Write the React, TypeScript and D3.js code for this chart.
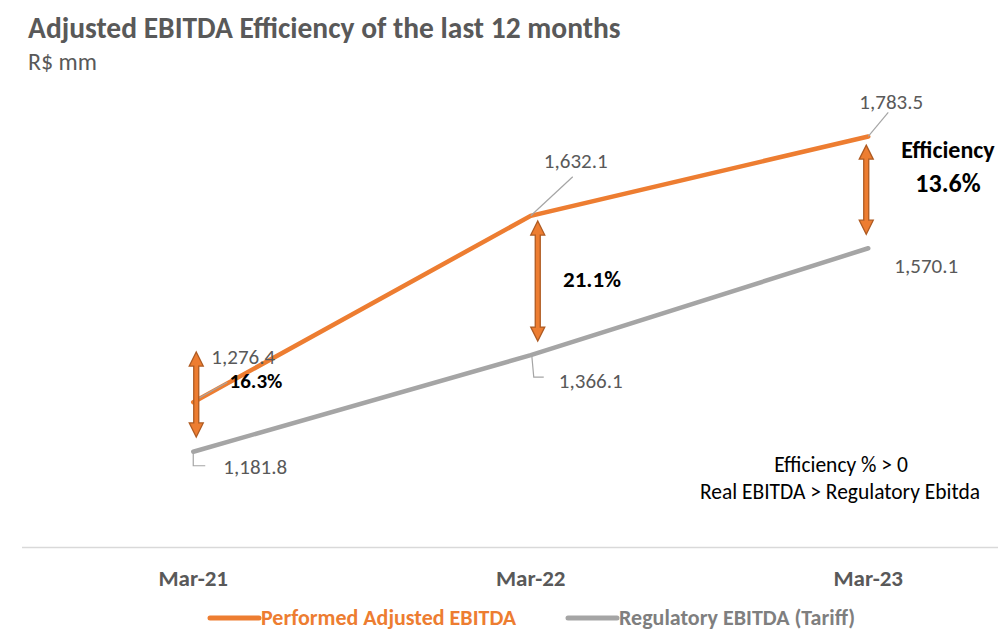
import * as d3 from "d3";

// chart data
const periods = ["Mar-21", "Mar-22", "Mar-23"];
const performed = [1276.4, 1632.1, 1783.5];
const regulatory = [1181.8, 1366.1, 1570.1];
const efficiency = ["16.3%", "21.1%", "13.6%"];
// arrow spans (R$ mm) drawn between the two lines
const arrowTop = [1372, 1622, 1767];
const arrowBottom = [1210, 1393, 1597];

const W = 998;
const H = 630;
const FONT = "Carlito, Lato, 'Open Sans', sans-serif";
const ORANGE = "#ED7D31";
const GRAY = "#A5A5A5";
const TXT = "#595959";

const x = d3.scaleBand<string>().domain(periods).range([24.5, 1037]);
const cx = (i: number) => (x(periods[i]) ?? 0) + x.bandwidth() / 2;
const y = d3.scaleLinear().domain([1000, 2000]).range([547, 23]);

const fmt = d3.format(",.1f");

const line = d3
  .line<number>()
  .x((_, i) => cx(i))
  .y((d) => y(d));

// double headed vertical arrow path
const arrowPath = (xc: number, y1: number, y2: number) => {
  const hw = 7, sw = 2.5, hh = 14;
  return [
    [xc, y1], [xc + hw, y1 + hh], [xc + sw, y1 + hh], [xc + sw, y2 - hh],
    [xc + hw, y2 - hh], [xc, y2], [xc - hw, y2 - hh], [xc - sw, y2 - hh],
    [xc - sw, y1 + hh], [xc - hw, y1 + hh],
  ]
    .map((p, i) => (i === 0 ? "M" : "L") + p[0] + "," + p[1])
    .join("") + "Z";
};

const arrowDx = [3, 7, -2];

export default function App() {
  const p = performed.map((v, i) => ({ x: cx(i), y: y(v) }));
  const r = regulatory.map((v, i) => ({ x: cx(i), y: y(v) }));
  return (
    <svg width={W} height={H} style={{ position: "absolute", left: 0, top: 0, fontFamily: FONT }}>
      <rect width={W} height={H} fill="#fff" />
      <text x={28} y={38} fontSize={29.5} fontWeight="bold" fill={TXT}>
        Adjusted EBITDA Efficiency of the last 12 months
      </text>
      <text x={28} y={70} fontSize={24} fill={TXT}>R$ mm</text>

      {/* axis */}
      <line x1={22} x2={998} y1={547.5} y2={547.5} stroke="#D9D9D9" strokeWidth={1.5} />
      {periods.map((d, i) => (
        <text key={d} x={cx(i)} y={586} textAnchor="middle" fontSize={23} fontWeight="bold" fill={TXT}>
          {d}
        </text>
      ))}

      {/* series */}
      <path d={line(regulatory) ?? ""} fill="none" stroke={GRAY} strokeWidth={4.5} strokeLinecap="round" />
      <path d={line(performed) ?? ""} fill="none" stroke={ORANGE} strokeWidth={4.5} strokeLinecap="round" />

      {/* leader lines */}
      <g stroke={GRAY} strokeWidth={1.2} fill="none">
        <path d={`M${p[0].x},${p[0].y - 1}L${p[0].x + 34},${p[0].y - 20}`} />
        <path d={`M${p[1].x},${p[1].y}L${p[1].x + 42},${p[1].y - 39}`} />
        <path d={`M${p[2].x},${p[2].y}L${p[2].x + 20},${p[2].y - 24}`} />
        <path d={`M${r[0].x},${r[0].y}L${r[0].x},${r[0].y + 14}L${r[0].x + 12},${r[0].y + 14}`} />
        <path d={`M${r[1].x + 1},${r[1].y}L${r[1].x + 3},${r[1].y + 22}L${r[1].x + 13},${r[1].y + 22}`} />
      </g>

      {/* data labels */}
      <g fontSize={21} fill={TXT} textAnchor="middle">
        <text x={p[0].x + 50} y={p[0].y - 38}>{fmt(performed[0])}</text>
        <text x={p[1].x + 45} y={p[1].y - 48}>{fmt(performed[1])}</text>
        <text x={p[2].x + 23} y={p[2].y - 27}>{fmt(performed[2])}</text>
        <text x={r[0].x + 62} y={r[0].y + 22}>{fmt(regulatory[0])}</text>
        <text x={r[1].x + 60} y={r[1].y + 33}>{fmt(regulatory[1])}</text>
        <text x={r[2].x + 58} y={r[2].y + 25}>{fmt(regulatory[2])}</text>
      </g>

      {/* efficiency arrows */}
      {periods.map((d, i) => (
        <path
          key={"a" + d}
          d={arrowPath(cx(i) + arrowDx[i], y(arrowTop[i]), y(arrowBottom[i]))}
          fill={ORANGE}
          stroke="#AE5A21"
          strokeWidth={1.3}
        />
      ))}

      <g fontWeight="bold" fill="#000" textAnchor="middle">
        <text x={256} y={388} fontSize={21}>{efficiency[0]}</text>
        <text x={592} y={287} fontSize={23}>{efficiency[1]}</text>
        <text x={948} y={158} fontSize={24}>Efficiency</text>
        <text x={948} y={192} fontSize={26}>{efficiency[2]}</text>
      </g>

      <g fontSize={21.5} fill="#000" textAnchor="middle">
        <text x={841} y={472}>Efficiency % &gt; 0</text>
        <text x={840} y={499}>Real EBITDA &gt; Regulatory Ebitda</text>
      </g>

      {/* legend */}
      <line x1={210} x2={259} y1={618} y2={618} stroke={ORANGE} strokeWidth={5} strokeLinecap="round" />
      <text x={261} y={625} fontSize={22} fontWeight="bold" fill={ORANGE}>Performed Adjusted EBITDA</text>
      <line x1={568} x2={617} y1={618} y2={618} stroke={GRAY} strokeWidth={5} strokeLinecap="round" />
      <text x={619} y={625} fontSize={22} fontWeight="bold" fill="#7F7F7F">Regulatory EBITDA (Tariff)</text>
    </svg>
  );
}
